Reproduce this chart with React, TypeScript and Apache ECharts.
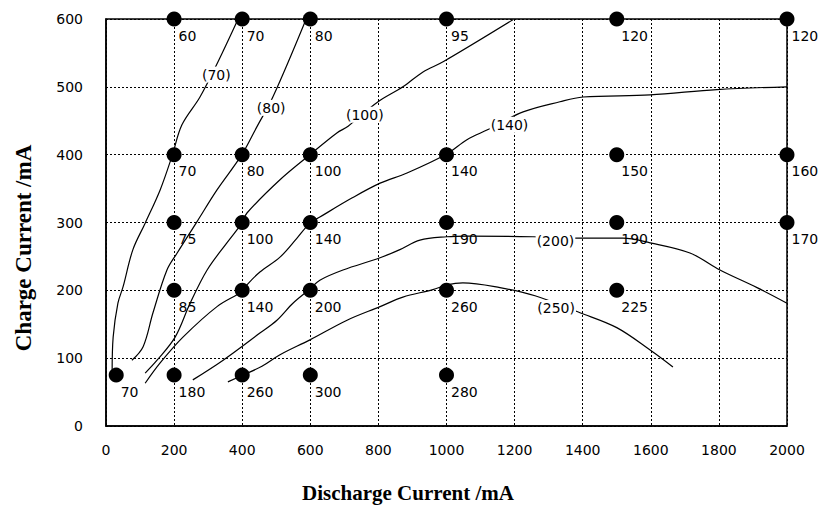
import React, { useEffect, useRef } from "react";
import * as echarts from "echarts";

// Measured points (discharge current, charge current) with their values
const pointX = [200, 400, 600, 1000, 1500, 2000, 200, 400, 600, 1000, 1500, 2000, 200, 400, 600, 1000, 1500, 2000, 200, 400, 600, 1000, 1500, 30, 200, 400, 600, 1000];
const pointY = [600, 600, 600, 600, 600, 600, 400, 400, 400, 400, 400, 400, 300, 300, 300, 300, 300, 300, 200, 200, 200, 200, 200, 75, 75, 75, 75, 75];
const pointLabel = ["60", "70", "80", "95", "120", "120", "70", "80", "100", "140", "150", "160", "75", "100", "140", "190", "190", "170", "85", "140", "200", "260", "225", "70", "180", "260", "300", "280"];

// Contour lines
const curve70 = [[388, 600], [329, 537], [276, 485], [223, 444], [194, 398], [159, 348], [115, 299], [79, 260], [50, 205], [35, 181], [21, 131], [18, 78]];
const curve80 = [[587, 599], [490, 485], [443, 441], [399, 400], [326, 348], [267, 301], [209, 255], [179, 230], [138, 167], [109, 117], [76, 97]];
const curve100 = [[1195, 599], [990, 537], [931, 522], [872, 500], [799, 478], [711, 442], [678, 432], [599, 400], [511, 363], [414, 314], [399, 299], [355, 270], [297, 230], [247, 181], [203, 131], [150, 97], [115, 78]];
const curve140 = [[2000, 500], [1794, 496], [1598, 488], [1401, 485], [1333, 478], [1225, 463], [1122, 437], [1060, 422], [1001, 401], [884, 373], [805, 358], [722, 336], [628, 308], [599, 299], [561, 277], [511, 249], [452, 227], [414, 208], [402, 199], [326, 176], [226, 131], [159, 93], [115, 63]];
const curve200 = [[2000, 181], [1912, 204], [1803, 230], [1715, 255], [1598, 270], [1518, 277], [1383, 277], [1254, 279], [1060, 280], [1001, 279], [922, 274], [863, 260], [805, 248], [696, 230], [628, 215], [599, 202], [549, 181], [502, 156], [452, 137], [344, 97], [255, 68]];
const curve250 = [[1665, 87], [1598, 112], [1500, 145], [1392, 167], [1260, 192], [1157, 204], [1048, 211], [1001, 208], [960, 201], [872, 190], [805, 176], [708, 156], [599, 127], [511, 105], [458, 88], [402, 75], [358, 65]];

const contourLabelText = ["(70)", "(80)", "(100)", "(140)", "(200)", "(250)"];
const contourLabelX = [324, 485, 760, 1185, 1320, 1322];
const contourLabelY = [518, 469, 459, 444, 273, 174];

const curves = [curve70, curve80, curve100, curve140, curve200, curve250];

const LABEL_FONT = "DejaVu Sans";
const TITLE_FONT = "Liberation Serif";

export default function App() {
  const ref = useRef<HTMLDivElement>(null);

  useEffect(() => {
    if (!ref.current) return;
    const chart = echarts.init(ref.current, undefined, { renderer: "svg" });

    const lineSeries = curves.map((c, i) => ({
      type: "line",
      name: "curve" + i,
      data: c,
      smooth: 0.35,
      showSymbol: false,
      symbol: "none",
      lineStyle: { color: "#000", width: 1.2, opacity: 1 },
      z: 3,
      silent: true,
    }));

    const option = {
      animation: false,
      backgroundColor: "#fff",
      grid: {
        left: 106,
        right: 36,
        top: 19,
        bottom: 80,
        show: true,
        borderColor: "#000",
        borderWidth: 1.5,
        containLabel: false,
      },
      xAxis: {
        type: "value",
        min: 0,
        max: 2000,
        interval: 200,
        axisLine: { show: true, lineStyle: { color: "#000", width: 1.5 } },
        axisTick: { show: false },
        axisLabel: { color: "#000", fontFamily: LABEL_FONT, fontSize: 14, margin: 17, formatter: (v: number) => String(v) },
        splitLine: { show: true, lineStyle: { color: "#000", type: [2, 2], width: 1 } },
      },
      yAxis: {
        type: "value",
        min: 0,
        max: 600,
        interval: 100,
        axisLine: { show: true, lineStyle: { color: "#000", width: 1.5 } },
        axisTick: { show: false },
        axisLabel: { color: "#000", fontFamily: LABEL_FONT, fontSize: 14, margin: 23, formatter: (v: number) => String(v) },
        splitLine: { show: true, lineStyle: { color: "#000", type: [2, 2], width: 1 } },
      },
      graphic: [
        {
          type: "text",
          x: 408,
          y: 493,
          style: {
            text: "Discharge Current /mA",
            fill: "#000",
            font: `bold 21px "${TITLE_FONT}"`,
            textAlign: "center",
            textVerticalAlign: "middle",
          },
        },
        {
          type: "text",
          x: 23,
          y: 248,
          rotation: Math.PI / 2,
          style: {
            text: "Charge Current /mA",
            fill: "#000",
            font: `bold 23px "${TITLE_FONT}"`,
            textAlign: "center",
            textVerticalAlign: "middle",
          },
        },
      ],
      series: [
        ...lineSeries,
        {
          type: "scatter",
          name: "points",
          symbol: "circle",
          symbolSize: 15,
          itemStyle: { color: "#000", opacity: 1 },
          z: 5,
          data: pointX.map((x, i) => ({ value: [x, pointY[i]], name: pointLabel[i] })),
          label: {
            show: true,
            formatter: (p: any) => p.name,
            position: [12, 17],
            color: "#000",
            fontFamily: LABEL_FONT,
            fontSize: 14,
          },
          silent: true,
        },
        {
          type: "scatter",
          name: "contourLabels",
          symbol: "circle",
          symbolSize: 1,
          itemStyle: { color: "rgba(0,0,0,0)", opacity: 1 },
          z: 8,
          data: contourLabelX.map((x, i) => ({ value: [x, contourLabelY[i]], name: contourLabelText[i] })),
          label: {
            show: true,
            formatter: (p: any) => p.name,
            position: "inside",
            color: "#000",
            fontFamily: LABEL_FONT,
            fontSize: 14,
            backgroundColor: "#fff",
            padding: [1, 1],
          },
          silent: true,
        },
      ],
    };

    chart.setOption(option as any);
    return () => chart.dispose();
  }, []);

  return (
    <div
      ref={ref}
      style={{ position: "absolute", left: 0, top: 0, width: 823, height: 506, background: "#fff" }}
    />
  );
}
